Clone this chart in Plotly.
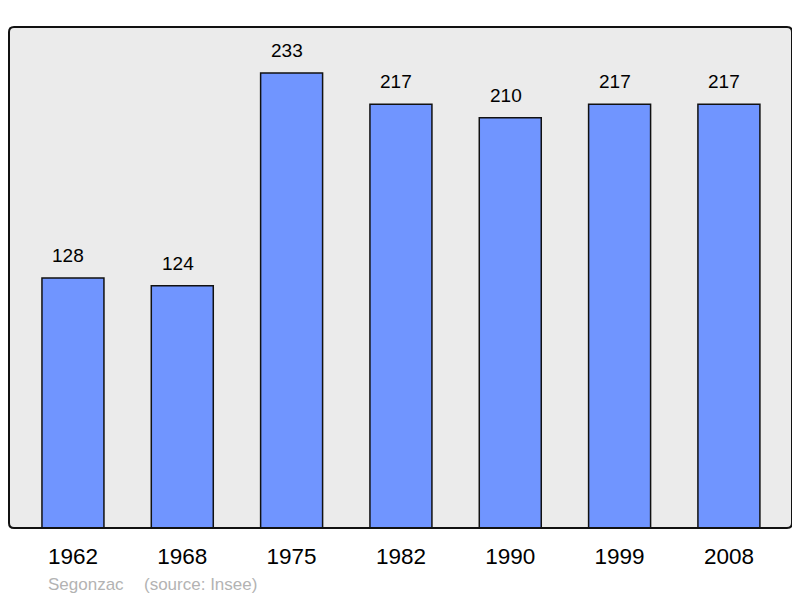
import plotly.graph_objects as go

years = ["1962", "1968", "1975", "1982", "1990", "1999", "2008"]
population = [128, 124, 233, 217, 210, 217, 217]

xpos = list(range(len(years)))

fig = go.Figure()
fig.add_trace(go.Bar(
    x=xpos, y=population, width=0.567,
    marker=dict(color="#7095ff", line=dict(color="#111111", width=1.5)),
    hoverinfo="skip",
))

for xi, v in zip(xpos, population):
    fig.add_annotation(x=xi, y=v, text=str(v), showarrow=False,
                       yanchor="bottom", yshift=10, xshift=-4.5,
                       font=dict(family="Liberation Sans", size=19, color="black"))

W, H = 783.0, 501.0
src_y = -(584 - 528) / H
fig.add_annotation(xref="paper", yref="paper", x=(46 - 9) / W, y=src_y,
                   xanchor="left", yanchor="middle", showarrow=False,
                   text="Segonzac",
                   font=dict(family="Liberation Sans", size=17, color="#b3b3b3"))
fig.add_annotation(xref="paper", yref="paper", x=(142 - 9) / W, y=src_y,
                   xanchor="left", yanchor="middle", showarrow=False,
                   text="(source: Insee)",
                   font=dict(family="Liberation Sans", size=17, color="#b3b3b3"))

# rounded border around plot area
rx, ry = 5 / W, 5 / H
path = (f"M {rx},0 L {1-rx},0 Q 1,0 1,{ry} L 1,{1-ry} Q 1,1 {1-rx},1 "
        f"L {rx},1 Q 0,1 0,{1-ry} L 0,{ry} Q 0,0 {rx},0 Z")
fig.add_shape(type="path", xref="paper", yref="paper", path=path,
              line=dict(color="#111111", width=2), layer="above")

fig.update_layout(
    width=792, height=590,
    margin=dict(l=1, r=8, t=19, b=70),
    paper_bgcolor="white", plot_bgcolor="#ebebeb",
    showlegend=False,
    xaxis=dict(range=[-0.585, 6.577], tickvals=xpos, ticktext=years,
               showgrid=False, zeroline=False, ticks="outside", ticklen=8,
               tickcolor="rgba(0,0,0,0)",
               tickfont=dict(family="Liberation Sans", size=22.5, color="black")),
    yaxis=dict(range=[0, 256.5], showgrid=False, zeroline=False,
               showticklabels=False, ticks=""),
)

fig.write_html("out.html")
